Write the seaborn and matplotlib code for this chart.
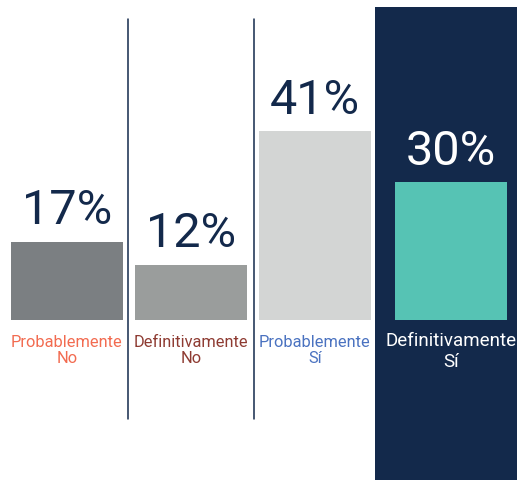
import numpy as np
import pandas as pd
import matplotlib.pyplot as plt
import seaborn as sns
from matplotlib.patches import Rectangle

sns.set_theme(style="white")
plt.rcParams['font.family'] = ['Roboto', 'DejaVu Sans']

# data
categories = ['Probablemente No', 'Definitivamente No', 'Probablemente Sí', 'Definitivamente Sí']
values = [17, 12, 41, 30]
cat_labels = ['Probablemente\nNo', 'Definitivamente\nNo', 'Probablemente\nSí', 'Definitivamente\nSí']

bar_colors = ['#7B7F82', '#9A9D9C', '#D3D5D4', '#56C3B4']
label_colors = ['#F26B50', '#8E3B32', '#4A72C0', '#FFFFFF']
pct_colors = ['#13294B', '#13294B', '#13294B', '#FFFFFF']
navy = '#13294B'

df = pd.DataFrame({'cat': categories, 'val': values})

W, H = 522, 480
fig = plt.figure(figsize=(W / 100, H / 100), dpi=100)
ax = fig.add_axes([0, 0, 1, 1])
ax.patch.set_alpha(0)

# dark panel behind the last bar
ax.add_patch(Rectangle((375 / W, 0), (517 - 375) / W, (H - 7) / H,
                       transform=ax.transAxes, color=navy, zorder=0, lw=0))

sns.barplot(data=df, x='cat', y='val', hue='cat', palette=bar_colors,
            width=0.903, legend=False, ax=ax, zorder=2, saturation=1,
            linewidth=0, edgecolor='none')

# pixel mapping: bar spacing 124 px, 4.6 px per percent, baseline at y=320
px_per_cat = 124.0
px_per_pct = 4.6
x0_px = 67.0
base_px = 320.0
ax.set_xlim(-x0_px / px_per_cat, (W - x0_px) / px_per_cat)
ax.set_ylim(-(H - base_px) / px_per_pct, base_px / px_per_pct)

# last bar sits a little further right inside the panel
shift = 12 / px_per_cat
bars = ax.patches[1:]
bars[3].set_x(bars[3].get_x() + shift)

centers = [0, 1, 2, 3 + shift]
for xc, v, lab, lc, pc in zip(centers, values, cat_labels, label_colors, pct_colors):
    ax.text(xc, v + 1.6, f'{v}%', ha='center', va='bottom', fontsize=35,
            color=pc, zorder=3)
    last = lc == '#FFFFFF'
    ax.text(xc, -3.3 if not last else -2.6, lab, ha='center', va='top',
            fontsize=13.5 if last else 11.8,
            color=lc, linespacing=1.1 if not last else 1.2, zorder=3)

# separators
for xp in [128.5, 253.5]:
    ax.axvline((xp - x0_px) / px_per_cat, ymin=(H - 419) / H, ymax=(H - 19) / H,
               color=navy, lw=1.1, zorder=1)

ax.set_axis_off()
fig.savefig('out.png', dpi=100)
